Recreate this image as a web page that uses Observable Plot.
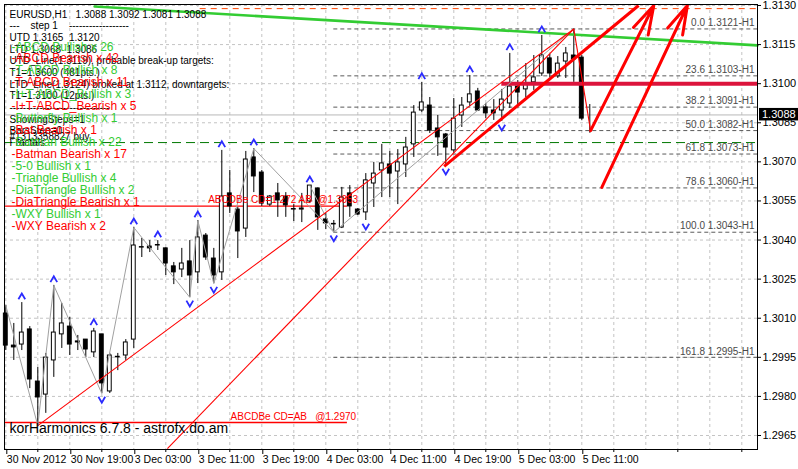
<!DOCTYPE html>
<html><head><meta charset="utf-8">
<script src="https://cdn.jsdelivr.net/npm/d3@7"></script>
<script src="https://cdn.jsdelivr.net/npm/@observablehq/plot@0.6"></script>
<style>
body{margin:0;background:#fff;}
#chart svg{display:block;}
</style></head><body><div id="chart"></div>
<script>
// ---------- data ----------
const opens = [1.30118,1.29995,1.29999,1.30057,1.29857,1.29807,1.29938,1.30038,1.30068,1.30011,1.30018,1.29969,1.30038,1.29819,1.29950,1.29957,1.30018,1.30371,1.30375,1.30379,1.30368,1.30299,1.30287,1.30318,1.30276,1.30417,1.30329,1.30276,1.30579,1.30517,1.30444,1.30717,1.30659,1.30536,1.30579,1.30567,1.30517,1.30517,1.30548,1.30598,1.30479,1.30460,1.30448,1.30579,1.30517,1.30506,1.30617,1.30667,1.30690,1.30663,1.30690,1.30767,1.30897,1.30916,1.30828,1.30805,1.30744,1.30878,1.30928,1.30970,1.30909,1.30897,1.30897,1.30924,1.30989,1.30978,1.31005,1.31039,1.31097,1.31028,1.31085,1.31108,1.31100,1.3088];
const highs = [1.30149,1.30080,1.30160,1.30068,1.29911,1.29965,1.30226,1.30157,1.30103,1.30034,1.30018,1.30061,1.30038,1.29965,1.29965,1.30018,1.30448,1.30406,1.30398,1.30398,1.30370,1.30314,1.30368,1.30398,1.30475,1.30425,1.30368,1.30744,1.30667,1.30525,1.30740,1.30751,1.30667,1.30571,1.30617,1.30582,1.30536,1.30579,1.30609,1.30600,1.30502,1.30475,1.30602,1.30609,1.30521,1.30655,1.30698,1.30767,1.30740,1.30747,1.30794,1.30916,1.31005,1.30947,1.30878,1.30809,1.30943,1.30947,1.31031,1.30982,1.30924,1.30939,1.30978,1.31116,1.31012,1.31077,1.31108,1.31185,1.31112,1.31104,1.31139,1.31210,1.31108,1.3092];
const lows = [1.29976,1.29938,1.29976,1.29830,1.29688,1.29735,1.29873,1.29984,1.29957,1.29976,1.29949,1.29949,1.29811,1.29811,1.29899,1.29938,1.29984,1.30333,1.30352,1.30360,1.30264,1.30229,1.30256,1.30180,1.30233,1.30322,1.30233,1.30245,1.30502,1.30329,1.30410,1.30582,1.30529,1.30529,1.30487,1.30487,1.30471,1.30467,1.30540,1.30437,1.30440,1.30430,1.30444,1.30487,1.30494,1.30475,1.30525,1.30563,1.30563,1.30536,1.30640,1.30717,1.30889,1.30809,1.30721,1.30686,1.30732,1.30832,1.30912,1.30893,1.30866,1.30859,1.30855,1.30905,1.30916,1.30947,1.30974,1.31028,1.31024,1.31020,1.31020,1.31005,1.30859,1.3081];
const closes = [1.29995,1.29988,1.30045,1.29865,1.29796,1.29949,1.30045,1.30080,1.29999,1.30007,1.29980,1.30049,1.29850,1.29957,1.29952,1.30007,1.30379,1.30373,1.30368,1.30381,1.30310,1.30276,1.30310,1.30264,1.30410,1.30333,1.30264,1.30567,1.30529,1.30433,1.30709,1.30644,1.30540,1.30567,1.30552,1.30533,1.30519,1.30521,1.30609,1.30487,1.30464,1.30462,1.30563,1.30529,1.30498,1.30629,1.30655,1.30694,1.30655,1.30698,1.30755,1.30889,1.30928,1.30820,1.30794,1.30755,1.30866,1.30916,1.30959,1.30897,1.30886,1.30886,1.30939,1.30989,1.30966,1.31001,1.31024,1.31108,1.31039,1.31077,1.31116,1.31093,1.30866,1.3088];

const timeTickBars = [0,8,16,24,32,40,48,56,64,72];
const timeTickLabels = ["30 Nov 2012","30 Nov 19:00","3 Dec 03:00","3 Dec 11:00","3 Dec 19:00","4 Dec 03:00","4 Dec 11:00","4 Dec 19:00","5 Dec 03:00","5 Dec 11:00"];
const minorTickBars = [4,12,20,28,36,44,52,60,68,76,84,92];
const gridBars = [0,4,8,12,16,20,24,28,32,36,40,44,48,52,56,60,64,68,72,76,80,84,88,92];
const priceTicks = [1.2965,1.2980,1.2995,1.3010,1.3025,1.3040,1.3055,1.3070,1.3085,1.3100,1.3115,1.3130];

const fibLevels = ["0.0","23.6","38.2","50.0","61.8","78.6","100.0","161.8"];
const fibPrices = [1.3121,1.3103,1.3091,1.3082,1.3073,1.3060,1.3043,1.2995];
const fibStartBar = 41;

const upArrowBars = [2,6,11,16,19,24,27,31,38,52,58,63,67];
const downArrowBars = [12,23,26,41,45,55,62];

const zigzagBars = [0,4,6,12,16,23,24,26,31,41,71];
const zigzagPrices = [1.30149,1.29688,1.30226,1.29811,1.30448,1.30180,1.30475,1.30233,1.30751,1.30430,1.31210];
const patternGrayX1 = [38], patternGrayY1 = [1.30609], patternGrayX2 = [41], patternGrayY2 = [1.30430];

const redThinX1 = [4, 20.2, 71], redThinY1 = [1.29688, 1.29600, 1.31210];
const redThinX2 = [71, 71, 73.1], redThinY2 = [1.31210, 1.31210, 1.30820];

const trendX1 = [54.8], trendY1 = [1.30683], trendX2 = [79.1], trendY2 = [1.31300];
const arrowX1 = [73.1, 74.5], arrowY1 = [1.30820, 1.30602], arrowX2 = [81.0, 85.2], arrowY2 = [1.31300, 1.31300];

const greenLineX = [11.1, 93.96], greenLineY = [1.31296, 1.31147];
const topDashPrice = 1.31288, topDashStart = 24.3;
const fractalPrice = 1.30774;
const crimsonPrice = 1.3100, crimsonStart = 62;
const targetPrices = [1.3053, 1.2970];
const targetEndBars = [42.7, 42.7];
const targetLabels = ["ABCDBe CD=1.272 AB\u00a0\u00a0@1.3053", "ABCDBe CD=AB\u00a0\u00a0\u00a0@1.2970"];
const targetLabelBars = [25.3, 28.1];

const infoLines = [
  "EURUSD,H1\u00a0\u00a0\u00a01.3088 1.3092 1.3081 1.3088",
  "---\u00a0\u00a0\u00a0\u00a0step 1\u00a0\u00a0\u00a0\u00a0------------------",
  "UTD 1.3165\u00a0\u00a01.3120",
  "LTD 1.3068\u00a0\u00a01.3086",
  "UTD_Line(1.3119), probable break-up targets:",
  "T1=1.3600 (481pts.)",
  "LTD_Line(1.3124) broked at 1.3112, downtargets:",
  "T1=1.3100 (12pts.)",
  "------------------------------",
  "ShowingSteps=1",
  "BarsStep=0",
  "Fractals"
];
const orderLine = "#1313358827 buy";
const patternLines = ["-ABCD Bullish x 26","-ABCD Bearish x 42","-T-ABCD Bullish x 8","-T-ABCD Bearish x 11","-I+T-ABCD_Bullish x 3","-I+T-ABCD_Bearish x 5","-Butterfly Bullish x 1","-Bat Bearish x 1","-Batman Bullish x 22","-Batman Bearish x 17","-5-0 Bullish x 1","-Triangle Bullish x 4","-DiaTriangle Bullish x 2","-DiaTriangle Bearish x 1","-WXY Bullish x 1","-WXY Bearish x 2"];
const patternIsBull = [true,false,true,false,true,false,true,false,true,false,true,true,true,false,true,false];
const footer = "korHarmonics 6.7.8 - astrofx.do.am";

const xDomain = [-0.1625, 93.9625];
const yDomain = [1.295963, 1.313038];

// ---------- build ----------
const bars = opens.map((o,i)=>({i, open:o, high:highs[i], low:lows[i], close:closes[i]}));
const zigzag = zigzagBars.map((b,i)=>({x:b, y:zigzagPrices[i]}));
const greenPts = greenLineX.map((x,i)=>({x, y:greenLineY[i]}));
const greenText = patternLines.map((t,i)=>patternIsBull[i]?t:"\u00a0").join("\n");
const redText = patternLines.map((t,i)=>patternIsBull[i]?"\u00a0":t).join("\n");
const fibData = fibLevels.map((l,i)=>({price:fibPrices[i], label:`${l} ${fibPrices[i].toFixed(4)}-H1`}));
const targets = targetPrices.map((p,i)=>({price:p, end:targetEndBars[i], label:targetLabels[i], lx:targetLabelBars[i]}));
const lastClose = closes[closes.length-1];

const chevUp = {draw(ctx,size){const r=Math.sqrt(size/Math.PI);ctx.moveTo(-r,r*0.8);ctx.lineTo(0,-r*0.9);ctx.lineTo(r,r*0.8);}};
const chevDown = {draw(ctx,size){const r=Math.sqrt(size/Math.PI);ctx.moveTo(-r,-r*0.8);ctx.lineTo(0,r*0.9);ctx.lineTo(r,-r*0.8);}};

const FONT = "'Liberation Sans', Arial, sans-serif";
const chart = Plot.plot({
  width: 798, height: 469,
  marginLeft: 4, marginRight: 41, marginTop: 4, marginBottom: 20,
  x: {type:"linear", domain: xDomain, axis: null},
  y: {type:"linear", domain: yDomain, axis: null},
  style: {fontFamily: FONT, background: "white", color: "black", overflow: "visible"},
  marks: [
    Plot.ruleX(gridBars, {stroke:"#c4c4c4", strokeDasharray:"3,3"}),
    Plot.ruleY(priceTicks, {stroke:"#c4c4c4", strokeDasharray:"3,3"}),
    Plot.ruleY(fibData, {y:"price", x1: fibStartBar, x2: xDomain[1], stroke:"#5a5a5a", strokeDasharray:"4,3"}),
    Plot.ruleY([fractalPrice], {stroke:"#007800", strokeDasharray:"9,5"}),
    Plot.ruleY([topDashPrice], {x1: topDashStart, x2: xDomain[1], stroke:"#ff4500", strokeDasharray:"6,5"}),
    Plot.ruleY([lastClose], {stroke:"#b8b8b8"}),
    Plot.ruleY(targets, {y:"price", x1: xDomain[0], x2:"end", stroke:"#ff0000", strokeWidth:1.4}),
    // candles
    Plot.ruleX(bars, {x:"i", y1:"low", y2:"high", stroke:"black"}),
    Plot.rect(bars, {x1:d=>d.i-0.24, x2:d=>d.i+0.24, y1:"open", y2:"close", fill:d=>d.close>=d.open?"white":"black", stroke:"black", strokeWidth:1}),
    // objects
    Plot.ruleY([crimsonPrice], {x1: crimsonStart, x2: xDomain[1], stroke:"#dc143c", strokeWidth:4}),
    Plot.line(greenPts, {x:"x", y:"y", stroke:"#33cc33", strokeWidth:2.6}),
    Plot.line(zigzag, {x:"x", y:"y", stroke:"#a0a0a0", strokeWidth:1}),
    Plot.link(patternGrayX1, {x1:(d,i)=>patternGrayX1[i], y1:(d,i)=>patternGrayY1[i], x2:(d,i)=>patternGrayX2[i], y2:(d,i)=>patternGrayY2[i], stroke:"#a0a0a0"}),
    Plot.link(redThinX1, {x1:(d,i)=>redThinX1[i], y1:(d,i)=>redThinY1[i], x2:(d,i)=>redThinX2[i], y2:(d,i)=>redThinY2[i], stroke:"#ff0000", strokeWidth:1.1, clip:true}),
    Plot.link(trendX1, {x1:(d,i)=>trendX1[i], y1:(d,i)=>trendY1[i], x2:(d,i)=>trendX2[i], y2:(d,i)=>trendY2[i], stroke:"#ff0000", strokeWidth:3}),
    Plot.arrow(arrowX1, {x1:(d,i)=>arrowX1[i], y1:(d,i)=>arrowY1[i], x2:(d,i)=>arrowX2[i], y2:(d,i)=>arrowY2[i], stroke:"#ff0000", strokeWidth:3, headLength:15, headAngle:32}),
    Plot.dot(upArrowBars, {x:d=>d, y:d=>highs[d], symbol:chevUp, r:3.4, stroke:"#2b2bff", fill:"none", strokeWidth:1.8, dy:-6}),
    Plot.dot(downArrowBars, {x:d=>d, y:d=>lows[d], symbol:chevDown, r:3.4, stroke:"#2b2bff", fill:"none", strokeWidth:1.8, dy:6}),
    // labels
    Plot.text(fibData, {y:"price", text:"label", frameAnchor:"right", textAnchor:"end", dx:-3, dy:-6, fontSize:10, fill:"#4a4a4a", ariaLabel:"fib-label"}),
    Plot.text(targets, {x:"lx", y:"price", text:"label", textAnchor:"start", dy:-6, fontSize:10, fill:"#ff0000", ariaLabel:"target-label"}),
    Plot.text([infoLines.join("\n")], {frameAnchor:"top-left", textAnchor:"start", lineAnchor:"top", dx:5, dy:5, fontSize:10, lineHeight:1.164, fill:"black", ariaLabel:"info"}),
    Plot.text([orderLine], {frameAnchor:"top-left", textAnchor:"start", lineAnchor:"top", dx:5, dy:128, fontSize:10, fill:"black", ariaLabel:"info"}),
    Plot.text([greenText], {frameAnchor:"top-left", textAnchor:"start", lineAnchor:"top", dx:7, dy:37.5, fontSize:12, lineHeight:0.996, fill:"#33cc33", ariaLabel:"patterns"}),
    Plot.text([redText], {frameAnchor:"top-left", textAnchor:"start", lineAnchor:"top", dx:7, dy:37.5, fontSize:12, lineHeight:0.996, fill:"#ff0000", ariaLabel:"patterns"}),
    Plot.text([footer], {frameAnchor:"bottom-left", textAnchor:"start", lineAnchor:"middle", dx:5, dy:-21, fontSize:14, fill:"black"}),
    // axes
    Plot.axisY(priceTicks, {anchor:"right", tickSize:3, tickPadding:2, tickFormat:d3.format(".4f"), fontSize:11}),
    Plot.axisX(minorTickBars.filter(b=>b<=xDomain[1]), {anchor:"bottom", tickSize:3, tickFormat:()=>""}),
    Plot.axisX(timeTickBars, {anchor:"bottom", tickSize:5, tickPadding:1, tickFormat:d=>timeTickLabels[timeTickBars.indexOf(d)], textAnchor:"start", dx:1, fontSize:10.5, ariaLabel:"time-axis"}),
    Plot.frame({stroke:"black"})
  ]
});

// bid price box on the price axis
const ys = chart.scale("y");
const yy = ys.apply(lastClose);
const svg = d3.select(chart);
svg.append("rect").attr("x", 759).attr("y", yy-6.5).attr("width", 39).attr("height", 12.5).attr("fill", "black");
svg.append("text").attr("x", 762).attr("y", yy).attr("dy", "0.35em").attr("fill", "white")
  .attr("text-anchor", "start").attr("font-size", 11).attr("font-family", FONT).text(lastClose.toFixed(4));

svg.selectAll('g[aria-label="info"] text').style("letter-spacing", "-0.15px");
svg.selectAll('g[aria-label="patterns"] text').style("letter-spacing", "-0.3px");
svg.selectAll('g[aria-label="target-label"] text').style("letter-spacing", "-0.3px");
svg.selectAll('g[aria-label="time-axis"] text').style("letter-spacing", "-0.5px");

document.getElementById("chart").appendChild(chart);
</script></body></html>
